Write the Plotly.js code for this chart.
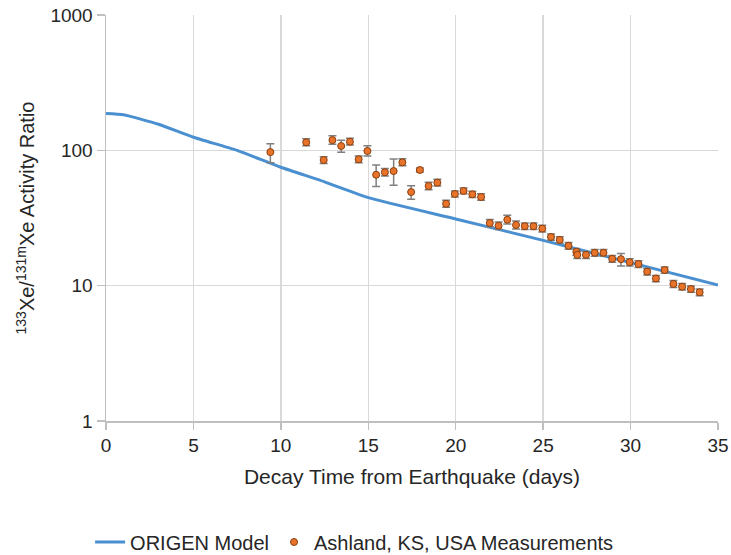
<!DOCTYPE html>
<html>
<head>
<meta charset="utf-8">
<script src="https://cdn.plot.ly/plotly-3.0.1.min.js"></script>
<style>html,body{margin:0;padding:0;background:#fff;}#chart{width:731px;height:555px;}</style>
</head>
<body>
<div id="chart"></div>
<script>
// ORIGEN model curve
var modelDays  = [0, 1, 3, 5, 7.5, 10, 12.5, 15, 20, 25, 30, 35];
var modelRatio = [187, 183, 156, 125, 100, 75, 58.5, 44.7, 31.1, 21.6, 14.8, 10.1];

// Ashland, KS measurements
var measDays = [9.4, 11.45, 12.45, 12.95, 13.45, 13.95, 14.45, 14.95, 15.45, 15.95,
  16.45, 16.95, 17.45, 17.95, 18.45, 18.95, 19.45, 19.95, 20.45, 20.95,
  21.45, 21.95, 22.45, 22.95, 23.45, 23.95, 24.45, 24.95, 25.45, 25.95,
  26.45, 26.9, 26.95, 27.45, 27.95, 28.45, 28.95, 29.45, 29.95, 30.45,
  30.95, 31.45, 31.95, 32.45, 32.95, 33.45, 33.95];
var measRatio = [97, 114.6, 84.8, 119, 107.7, 115.8, 85.9, 98.9, 66, 68.8,
  70.3, 81.5, 49.2, 71.6, 54.5, 57.7, 40.3, 47.6, 50.1, 47.3,
  45.2, 29.0, 27.7, 30.7, 28.1, 27.5, 27.5, 26.4, 22.9, 21.8,
  19.7, 17.8, 16.9, 16.9, 17.5, 17.5, 15.8, 15.7, 14.9, 14.45,
  12.7, 11.3, 13.05, 10.3, 9.82, 9.45, 8.94];
var errUp = [15, 7, 5, 9, 11, 7, 5, 9, 12, 4.5,
  16, 5, 5.6, 2.5, 3.5, 3.5, 2.5, 2.5, 2.5, 2.5,
  2.5, 1.8, 1.8, 2.5, 2.0, 1.5, 1.5, 1.5, 1.2, 1.2,
  1.1, 1.0, 1.0, 1.0, 1.0, 1.0, 0.9, 1.6, 0.9, 0.8,
  0.7, 0.6, 0.7, 0.6, 0.55, 0.5, 0.5];
var errDown = [16, 6.5, 4.8, 8, 11, 6.5, 5, 8, 12, 4.3,
  15, 4.7, 5.7, 2.5, 3.3, 3.3, 2.4, 2.4, 2.4, 2.4,
  2.4, 1.7, 1.7, 2.2, 1.9, 1.5, 1.5, 1.5, 1.2, 1.2,
  1.1, 1.0, 1.0, 1.0, 1.0, 1.0, 0.9, 1.7, 0.9, 0.8,
  0.7, 0.6, 0.7, 0.6, 0.55, 0.5, 0.5];

var xTicks = [0, 5, 10, 15, 20, 25, 30, 35];
var yTicks = [1, 10, 100, 1000];

var font = 'Liberation Sans, Arial, sans-serif';
var txt = '#262626';

var traces = [
  {
    x: modelDays, y: modelRatio, type: 'scatter', mode: 'lines',
    name: 'ORIGEN Model',
    line: {color: '#4a90d0', width: 3, shape: 'spline', smoothing: 0.5}
  },
  {
    x: measDays, y: measRatio, type: 'scatter', mode: 'markers',
    name: 'Ashland, KS, USA Measurements',
    marker: {color: '#e8732a', size: 7, line: {color: '#8a3f0f', width: 1}},
    error_y: {type: 'data', symmetric: false, array: errUp, arrayminus: errDown,
      color: '#808080', thickness: 1.5, width: 4}
  }
];

var layout = {
  width: 731, height: 555,
  margin: {l: 106, r: 13, t: 15, b: 134, autoexpand: false},
  paper_bgcolor: '#fff', plot_bgcolor: '#fff',
  font: {family: font, size: 19, color: txt},
  showlegend: true,
  legend: {orientation: 'h', x: -0.026, xanchor: 'left', y: -0.25, yanchor: 'top',
    font: {family: font, size: 20, color: txt}, traceorder: 'normal',
    itemwidth: 30},
  xaxis: {
    range: [0, 35], tickvals: xTicks, ticktext: xTicks.map(String),
    showgrid: true, gridcolor: '#d9d9d9', gridwidth: 1.5,
    showline: true, linecolor: '#bfbfbf', linewidth: 1.5,
    ticks: 'outside', ticklen: 7, tickcolor: '#bfbfbf', tickwidth: 1.5,
    zeroline: false,
    tickfont: {family: font, size: 19, color: txt},
    title: {text: 'Decay Time from Earthquake (days)', standoff: 14,
      font: {family: font, size: 21, color: txt}}
  },
  yaxis: {
    type: 'log', range: [0, 3], tickvals: yTicks, ticktext: yTicks.map(String),
    showgrid: true, gridcolor: '#d9d9d9', gridwidth: 1.5,
    showline: true, linecolor: '#bfbfbf', linewidth: 1.5,
    ticks: 'outside', ticklen: 8, tickcolor: '#bfbfbf', tickwidth: 1.5,
    zeroline: false,
    tickfont: {family: font, size: 19, color: txt},
    title: {text: '<sup>133</sup>Xe/<sup>131m</sup>Xe Activity Ratio', standoff: 10,
      font: {family: font, size: 20, color: txt}}
  }
};

Plotly.newPlot('chart', traces, layout, {displayModeBar: false, staticPlot: true});
</script>
</body>
</html>
